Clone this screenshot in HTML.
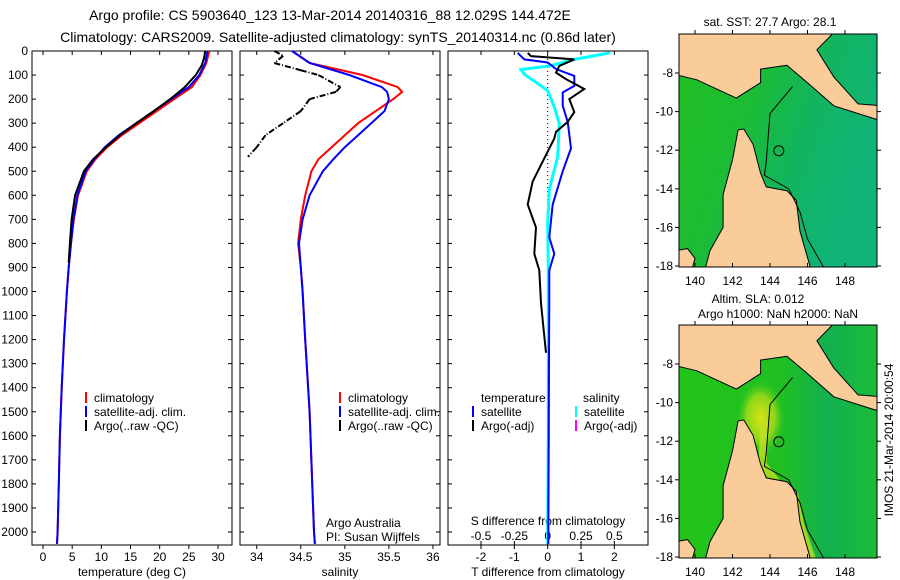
<!DOCTYPE html>
<html><head><meta charset="utf-8"><style>
body{margin:0;background:#fff}
svg{display:block;font-family:"Liberation Sans",sans-serif;font-size:12px}
</style></head><body>
<svg id="s" width="900" height="580" viewBox="0 0 900 580">
<defs>
<linearGradient id="oc1" x1="0" y1="0" x2="1" y2="0.4"><stop offset="0" stop-color="#22c020"/><stop offset="0.4" stop-color="#1cbc34"/><stop offset="0.7" stop-color="#12b460"/><stop offset="1" stop-color="#10b478"/></linearGradient>
<linearGradient id="oc2" x1="0" y1="0" x2="1" y2="0"><stop offset="0" stop-color="#22c41a"/><stop offset="0.5" stop-color="#20c020"/><stop offset="0.75" stop-color="#12b050"/><stop offset="1" stop-color="#1cbc38"/></linearGradient>
<radialGradient id="yl" cx="0.5" cy="0.5" r="0.5"><stop offset="0" stop-color="#d8e418"/><stop offset="0.6" stop-color="#a8dc18" stop-opacity="0.8"/><stop offset="1" stop-color="#40c820" stop-opacity="0"/></radialGradient>
<clipPath id="c1"><rect x="679" y="34" width="198" height="233"/></clipPath>
<clipPath id="c2"><rect x="679" y="325" width="198" height="233"/></clipPath>
</defs>
<text x="330" y="20" text-anchor="middle" font-size="14">Argo profile: CS 5903640_123 13-Mar-2014 20140316_88 12.029S 144.472E</text>
<text x="338" y="42" text-anchor="middle" font-size="14">Climatology: CARS2009. Satellite-adjusted climatology: synTS_20140314.nc (0.86d later)</text>
<g id="g"></g>
<text transform="translate(893,440) rotate(-90)" text-anchor="middle" font-size="12">IMOS 21-Mar-2014 20:00:54</text>
</svg>
<script>
// ---- data ----
const depthTick=[0,100,200,300,400,500,600,700,800,900,1000,1100,1200,1300,1400,1500,1600,1700,1800,1900,2000];
const tTicks=[0,5,10,15,20,25,30];
const sTicks=[34,34.5,35,35.5,36];
const dTTicks=[-2,-1,0,1,2];
const dSTickLabels=["-0.5","-0.25","0","0.25","0.5"];
const tClimD=[0,50,100,150,200,250,300,350,400,450,500,600,700,800,900,1000,1200,1400,1600,1800,2000,2050];
const tClim=[28.5,28,27,25.5,22.5,19.5,16.5,13.5,11,9,7.5,6,5.3,4.8,4.4,4.1,3.6,3.2,2.9,2.7,2.5,2.4];
const tSat=[28.2,27.8,26.8,25,22,19,16,13,10.6,8.8,7.3,5.9,5.2,4.8,4.4,4.1,3.6,3.2,2.9,2.7,2.5,2.4];
const tArgoD=[0,30,60,100,150,200,250,300,350,400,450,500,600,700,800,880];
const tArgo=[27.8,27.6,27.2,26.2,24.3,21.8,19,16,13.2,10.8,8.6,7,5.5,4.9,4.6,4.4];
const sClimD=[0,50,100,150,170,200,250,300,350,400,450,500,600,700,800,900,1000,1200,1500,2000,2050];
const sClim=[34.4,34.6,35.2,35.6,35.65,35.55,35.35,35.15,35,34.85,34.7,34.62,34.55,34.5,34.47,34.5,34.52,34.55,34.6,34.65,34.66];
const sSat=[34.4,34.6,35.05,35.42,35.48,35.5,35.45,35.3,35.15,35.0,34.87,34.75,34.6,34.52,34.48,34.5,34.52,34.55,34.6,34.65,34.66];
const sArgoD=[0,20,50,80,100,150,170,200,250,300,350,400,440];
const sArgo=[34.2,34.3,34.2,34.5,34.7,34.95,34.9,34.6,34.5,34.3,34.1,34.0,33.9];
const cyD=[8,35,62,77,97,130,165,233,302,439,576,713,900,1200,1600,2050];
const cyV=[1.87,0.8,0.07,-0.8,-0.7,-0.35,0,0.2,0.35,0.3,0.05,0,0.02,0.02,0.02,0];
const blD=[8,35,48,75,104,145,172,227,295,405,500,638,775,843,912,1049,1255,1600,2050];
const blV=[-0.9,-0.7,0,0.25,0.8,0.8,0.45,0.45,0.6,0.7,0.45,0.15,0.05,0.2,0.05,0.05,0.04,0.03,0.02];
const bkD=[8,21,35,62,90,117,158,200,254,295,336,364,432,542,638,734,843,912,1049,1186,1255];
const bkV=[-0.6,-0.5,0.8,0.35,0.25,0.55,1.1,0.65,0.8,0.6,0.25,0.2,-0.05,-0.45,-0.6,-0.35,-0.4,-0.25,-0.2,-0.1,-0.05];
const lonTicks=[140,142,144,146,148];
const latTicks=[-8,-10,-12,-14,-16,-18];
// ---- helpers ----
const NS="http://www.w3.org/2000/svg";const G=document.getElementById('g');
function mk(t,a,p){const e=document.createElementNS(NS,t);for(const k in a)e.setAttribute(k,a[k]);(p||G).appendChild(e);return e;}
const yTop=51,yBot=545;const yD=d=>yTop+d*(532-yTop)/2000;
const P=[{x0:32,x1:232,lo:-1.89,hi:32.4},{x0:240,x1:440,lo:33.81,hi:36.08},{x0:448,x1:648,lo:-2.99,hi:3.01}];
function xf(i){const p=P[i];return v=>p.x0+(v-p.lo)*(p.x1-p.x0)/(p.hi-p.lo);}
function line(i,D,V,col,w,name){const x=xf(i);const pts=D.map((d,k)=>x(V[k]).toFixed(1)+','+Math.min(yBot,yD(d)).toFixed(1)).join(' ');
 const e=mk('polyline',{points:pts,fill:'none',stroke:col,'stroke-width':w});
 
 }
function txt(x,y,s,anc,name,fs){const e=mk('text',{x:x,y:y,'text-anchor':anc||'start','font-size':fs||12});e.textContent=s;
 
 return e;}
// frames & y ticks
P.forEach((p,i)=>{const r=mk('rect',{x:p.x0,y:yTop,width:p.x1-p.x0,height:yBot-yTop,fill:'none',stroke:'#000'});
 
 
 depthTick.forEach(d=>{mk('line',{x1:p.x0,x2:p.x0+4,y1:yD(d),y2:yD(d),stroke:'#000'});mk('line',{x1:p.x1,x2:p.x1-4,y1:yD(d),y2:yD(d),stroke:'#000'});});});
depthTick.forEach(d=>txt(28,yD(d)+4,String(d),'end','depth-tick-label'));
function xticks(i,vals,labs,name){const x=xf(i);vals.forEach((v,k)=>{const X=x(v);mk('line',{x1:X,x2:X,y1:yBot,y2:yBot+4,stroke:'#000'});mk('line',{x1:X,x2:X,y1:yTop,y2:yTop+4,stroke:'#000'});txt(X,561,labs[k],'middle',name);});}
xticks(0,tTicks,tTicks.map(String),'temperature-tick-label');
xticks(1,sTicks,sTicks.map(String),'salinity-tick-label');
xticks(2,dTTicks,dTTicks.map(String),'t-diff-tick-label');
txt(132,576,'temperature (deg C)','middle','x-axis-title-temperature');
txt(340,576,'salinity','middle','x-axis-title-salinity');
txt(548,576,'T difference from climatology','middle','x-axis-title-t-diff');
const xd=xf(2);dSTickLabels.forEach((l,k)=>{mk('line',{x1:xd(dTTicks[k]),x2:xd(dTTicks[k]),y1:yBot,y2:yBot-4,stroke:'#000'});txt(xd(dTTicks[k]),540,l,'middle','s-diff-tick-label');});
txt(548,525,'S difference from climatology','middle','s-diff-title');
const zl=mk('line',{x1:xd(0),x2:xd(0),y1:yTop,y2:yBot,stroke:'#000','stroke-dasharray':'1,3'});


// series
line(0,tClimD,tClim,'#f00',2,'temperature-climatology');
line(0,tClimD,tSat,'#00f',2,'temperature-satellite');
line(0,tArgoD,tArgo,'#000',2,'temperature-argo');
line(1,sClimD,sClim,'#f00',2,'salinity-climatology');
line(1,sClimD,sSat,'#00f',2,'salinity-satellite');
const sa=xf(1);sArgoD.forEach((d,k)=>{if(k==0)return;const e=mk('line',{x1:sa(sArgo[k-1]),y1:yD(sArgoD[k-1]),x2:sa(sArgo[k]),y2:yD(d),stroke:'#000','stroke-width':2,'stroke-dasharray':'6,2,1,2'});
 
 });
line(2,cyD,cyV,'#0ff',3,'s-diff-satellite');
line(2,blD,blV,'#00f',2,'t-diff-satellite');
line(2,bkD,bkV,'#000',2,'t-diff-argo');
// legends
function leg(x,y,col,s,name){mk('line',{x1:x,x2:x,y1:y-10,y2:y+1,stroke:col,'stroke-width':2});txt(x+8,y,s,'start',name);}
leg(86,402,'#f00','climatology','legend-climatology');leg(86,416,'#00f','satellite-adj. clim.','legend-satellite');leg(86,430,'#000','Argo(..raw -QC)','legend-argo');
leg(340,402,'#f00','climatology','legend2-climatology');leg(340,416,'#00f','satellite-adj. clim.','legend2-satellite');leg(340,430,'#000','Argo(..raw -QC)','legend2-argo');
txt(481,402,'temperature','start','legend3-temperature-heading');txt(583,402,'salinity','start','legend3-salinity-heading');
leg(473,416,'#00f','satellite','legend3-t-sat');leg(473,430,'#000','Argo(-adj)','legend3-t-argo');
leg(576,416,'#0ff','satellite','legend3-s-sat');leg(576,430,'#f0f','Argo(-adj)','legend3-s-argo');
txt(326,527,'Argo Australia','start','credit-argo-australia');txt(326,541,'PI: Susan Wijffels','start','credit-pi');
// maps
function map(oy,fill,title1,title2,mname,yellow){const lx=v=>680+(v-139.2)*18.75, ly=v=>73+oy+(-8-v)*19.3;
 const gg=mk('g',{'clip-path':'url(#'+(oy?'c2':'c1')+')'});
 
 
 mk('rect',{x:679,y:34+oy,width:198,height:233,fill:fill},gg);
 if(yellow){mk('ellipse',{cx:lx(143.5),cy:ly(-10.8),rx:24,ry:38,fill:'url(#yl)'},gg);
  mk('polyline',{points:[[143.7,-11],[143.6,-13.2],[144.4,-14.2],[145.3,-14.8],[145.6,-16.3],[146.3,-18.3]].map(p=>lx(p[0])+','+ly(p[1])).join(' '),fill:'none',stroke:'#c0e020','stroke-width':8,'stroke-opacity':0.8},gg);}
 const poly=(a,c)=>mk('polygon',{points:a.map(p=>lx(p[0]).toFixed(1)+','+ly(p[1]).toFixed(1)).join(' '),fill:c,stroke:'#000','stroke-width':1},gg);
 poly([[139,-5.9],[147.4,-5.9],[146.5,-6.8],[147.4,-8.2],[148.7,-9.6],[150,-9.7],[150,-10.5],[147.4,-9.7],[146,-8.5],[144.9,-7.6],[143.5,-7.8],[143.5,-8.5],[142.2,-9.3],[140.1,-8.35],[139,-8.1]],'#facc9a');
 poly([[142.3,-10.95],[142.6,-10.9],[143.1,-11.7],[143.5,-13.2],[143.8,-13.9],[144.9,-14.1],[145.4,-14.6],[145.6,-16.2],[146.1,-17.9],[146.2,-18.3],[140.5,-18.3],[140.8,-17.2],[141.5,-16],[141.5,-14.3],[142,-12.5]],'#facc9a');
 poly([[139,-17.2],[139.6,-17.1],[140.0,-17.6],[139.8,-18.3],[139,-18.3]],'#facc9a');
 mk('polyline',{points:[[145.2,-8.7],[144,-10.1],[143.8,-12.6],[143.7,-13.3],[145,-14],[145.6,-15.2],[146,-16.6],[147,-18.3]].map(p=>lx(p[0])+','+ly(p[1])).join(' '),fill:'none',stroke:'#000'},gg);
 mk('circle',{cx:lx(144.47),cy:ly(-12.03),r:5,fill:'none',stroke:'#000'},gg);
 const fr=mk('rect',{x:679,y:34+oy,width:198,height:233,fill:'none',stroke:'#000'});
 
 
 lonTicks.forEach(v=>{mk('line',{x1:lx(v),x2:lx(v),y1:267+oy,y2:263+oy,stroke:'#000'});mk('line',{x1:lx(v),x2:lx(v),y1:34+oy,y2:30+oy,stroke:'#000'});txt(lx(v),285+oy,String(v),'middle','map-lon-label');});
 latTicks.forEach(v=>{mk('line',{x1:679,x2:675,y1:ly(v),y2:ly(v),stroke:'#000'});mk('line',{x1:877,x2:881,y1:ly(v),y2:ly(v),stroke:'#000'});txt(673,ly(v)+4,String(v),'end','map-lat-label');});
 if(title2){txt(758,oy+12,title1,'middle',mname+'-title');txt(778,oy+27,title2,'middle',mname+'-subtitle');}else txt(770,26,title1,'middle',mname+'-title');}
map(0,'url(#oc1)','sat. SST: 27.7 Argo: 28.1',null,'sst-map',false);
map(291,'url(#oc2)','Altim. SLA: 0.012','Argo h1000: NaN h2000: NaN','sla-map',true);
</script>
</body></html>
